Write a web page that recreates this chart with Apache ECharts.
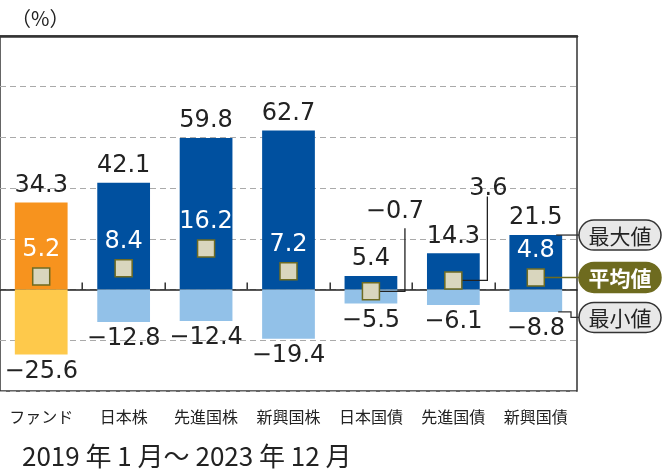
<!DOCTYPE html>
<html><head><meta charset="utf-8">
<script src="https://cdn.jsdelivr.net/npm/echarts@6/dist/echarts.min.js"></script>
<style>html,body{margin:0;padding:0;background:#fff}#c{width:672px;height:473px}</style>
</head><body><div id="c"></div>
<script>
const categories = ['ファンド','日本株','先進国株','新興国株','日本国債','先進国債','新興国債'];
const maxValues = [34.3, 42.1, 59.8, 62.7, 5.4, 14.3, 21.5];
const minValues = [-25.6, -12.8, -12.4, -19.4, -5.5, -6.1, -8.8];
const avgValues = [5.2, 8.4, 16.2, 7.2, -0.7, 3.6, 4.8];
const yTicks = {min: -40, max: 100, interval: 20};
const legendNames = ['最大値', '平均値', '最小値'];

const C = {
  fundMax: '#f7931e', fundMin: '#fec94b', max: '#00509f', min: '#92c1e8',
  markFill: '#d9d6be', markBorder: '#6e6b22', olive: '#6e6b1f', ink: '#222'
};
const NUM_FONT = 'DejaVu Sans';
const fmt = v => (v < 0 ? '−' : '') + Math.abs(v).toFixed(1);
const BAR_W = 0.64;
// callout placement for averages whose labels are drawn outside the bar (px, style)
const calloutStyle = {
  4: {lx: 24, ly: -80, vx: 34, vy: -63},
  5: {lx: 35, ly: -92, vx: 34, vy: -84}
};

const chart = echarts.init(document.getElementById('c'));
chart.setOption({
  animation: false,
  textStyle: {fontFamily: 'Noto Sans CJK JP'},
  title: [
    {text: '（%）', left: 11, top: 8, padding: 0,
     textStyle: {fontSize: 20, fontWeight: 'normal', color: C.ink, fontFamily: 'Noto Sans CJK JP'}},
    {text: '2019 年 1 月～ 2023 年 12 月', left: 22, top: 443, padding: 0,
     textStyle: {fontSize: 26, fontWeight: 'normal', color: C.ink, fontFamily: 'Noto Sans CJK JP'}}
  ],
  grid: {left: -1, right: 95, top: 36, bottom: 82, show: true, borderColor: '#333', borderWidth: 1.5, backgroundColor: 'transparent'},
  xAxis: [
    {type: 'category', data: categories, position: 'bottom',
     axisLine: {show: false, onZero: false}, axisTick: {show: false},
     axisLabel: {fontSize: 16, color: C.ink, margin: 18, interval: 0, fontFamily: 'Noto Sans CJK JP'}},
    {type: 'category', data: categories, position: 'top',
     axisLine: {show: true, onZero: false, lineStyle: {color: '#333', width: 2.5}}, axisTick: {show: false}, axisLabel: {show: false}},
    {type: 'category', data: categories, position: 'bottom',
     axisLine: {show: true, onZero: true, lineStyle: {color: C.ink, width: 1.5}},
     axisTick: {show: false}, axisLabel: {show: false}}
  ],
  yAxis: {type: 'value', min: yTicks.min, max: yTicks.max, interval: yTicks.interval,
    axisLine: {show: false}, axisTick: {show: false}, axisLabel: {show: false},
    splitLine: {show: true, lineStyle: {color: '#aaa', width: 1, type: [6, 4]}}},
  series: [
    {name: legendNames[0], type: 'bar', barWidth: (BAR_W * 100) + '%', barGap: '-100%', z: 2,
     data: maxValues.map((v, i) => ({value: v, itemStyle: {color: i === 0 ? C.fundMax : C.max}})),
     label: {show: true, position: 'top', distance: 5, formatter: p => fmt(p.value),
       fontFamily: NUM_FONT, fontSize: 24, color: C.ink}},
    {name: legendNames[2], type: 'bar', barWidth: (BAR_W * 100) + '%', barGap: '-100%', z: 2,
     data: minValues.map((v, i) => ({value: v, itemStyle: {color: i === 0 ? C.fundMin : C.min}})),
     label: {show: true, position: 'bottom', distance: 5, formatter: p => fmt(p.value),
       fontFamily: NUM_FONT, fontSize: 24, color: C.ink}},
    {name: 'callouts', type: 'custom', z: 3, clip: false, silent: true,
     data: avgValues.map((v, i) => [i, v]).filter(d => calloutStyle[d[0]]),
     renderItem: (params, api) => {
       const idx = api.value(0), v = api.value(1);
       const p = api.coord([idx, v]);
       const z0 = api.coord([idx, 0]);
       const band = api.size([1, 0])[0];
       const o = calloutStyle[idx];
       return {type: 'group', children: [
         {type: 'polyline', shape: {points: [[p[0] + 8, p[1]], [p[0] + o.vx, p[1]], [p[0] + o.vx, p[1] + o.vy]]},
          style: {stroke: C.ink, lineWidth: 1.3, fill: null}},
         {type: 'text', x: p[0] + o.lx, y: p[1] + o.ly,
          style: {text: fmt(v), fill: C.ink, font: '24px "' + NUM_FONT + '"', align: 'center', verticalAlign: 'middle'}}
       ]};
     }},
    {name: legendNames[1], type: 'scatter', symbol: 'rect', symbolSize: 17, z: 5,
     itemStyle: {color: C.markFill, borderColor: C.markBorder, borderWidth: 1.5, opacity: 1},
     data: avgValues.map((v, i) => ({value: [i, v], label: {show: !calloutStyle[i]}})),
     label: {show: true, position: 'top', distance: 5, formatter: p => fmt(p.value[1]),
       fontFamily: NUM_FONT, fontSize: 24, color: '#fff'}},
    {name: 'legendCallouts', type: 'custom', z: 4, clip: false, silent: true,
     data: [[categories.length - 1, maxValues[6], avgValues[6], minValues[6]]],
     renderItem: (params, api) => {
       const idx = api.value(0);
       const band = api.size([1, 0])[0];
       const cx = api.coord([idx, 0])[0];
       const y0 = api.coord([idx, 0])[1];
       const barRight = cx + band * BAR_W / 2;
       const yMax = api.coord([idx, api.value(1)])[1];
       const yAvg = api.coord([idx, api.value(2)])[1];
       const yMin = api.coord([idx, api.value(3)])[1];
       const cs = params.coordSys;
       const gridRight = cs.x + cs.width;
       const pillL = gridRight + 2, pw = 82, ph = 30;
       const yMinPill = yMin + 5.5;
       const pill = (y, name, filled) => ({type: 'group', children: [
         {type: 'rect', shape: {x: pillL, y: y - ph / 2, width: pw, height: ph, r: ph / 2},
          style: {fill: filled ? C.olive : '#e8e8e8', stroke: filled ? C.olive : '#333', lineWidth: 1.5}},
         {type: 'text', x: pillL + pw / 2, y: y + 1,
          style: {text: name, fill: filled ? '#fff' : C.ink, align: 'center', verticalAlign: 'middle',
            font: (filled ? 'bold ' : '') + '21px "Noto Sans CJK JP"'}}
       ]});
       // category-boundary ticks on the zero line
       const ticks = [];
       for (let k = 1; k < categories.length; k++) {
         const bx = api.coord([k, 0])[0] - band / 2;
         ticks.push({type: 'rect', shape: {x: Math.round(bx) - 0.5, y: y0 - 7, width: 1.4, height: 7},
           style: {fill: C.ink}});
       }
       return {type: 'group', children: ticks.concat([
         {type: 'polyline', shape: {points: [[barRight - 6, yMax], [pillL, yMax]]}, style: {stroke: '#333', lineWidth: 1.3, fill: null}},
         {type: 'polyline', shape: {points: [[cx, yAvg], [pillL, yAvg]]}, style: {stroke: C.olive, lineWidth: 1.5, fill: null}},
         {type: 'polyline', shape: {points: [[barRight - 4, yMin], [gridRight - 6, yMin], [gridRight - 6, yMinPill], [pillL, yMinPill]]},
          style: {stroke: '#333', lineWidth: 1.3, fill: null}},
         pill(yMax, legendNames[0], false),
         pill(yAvg, legendNames[1], true),
         pill(yMinPill, legendNames[2], false)
       ])};
     }}
  ]
});
</script></body></html>
